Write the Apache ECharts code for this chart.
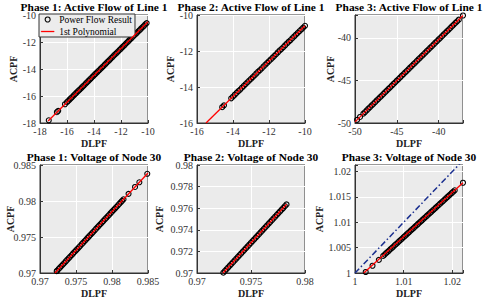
<!DOCTYPE html>
<html>
<head>
<meta charset="utf-8">
<script src="https://cdn.jsdelivr.net/npm/echarts@6/dist/echarts.min.js"></script>
<style>
html,body{margin:0;padding:0;background:#fff;}
#chart{width:485px;height:301px;}
</style>
</head>
<body>
<div id="chart"></div>
<script>
// ---------- DATA ----------
const titles = ['Phase 1: Active Flow of Line 1','Phase 2: Active Flow of Line 1','Phase 3: Active Flow of Line 1',
                'Phase 1: Voltage of Node 30','Phase 2: Voltage of Node 30','Phase 3: Voltage of Node 30'];
const xName = 'DLPF';
const yName = 'ACPF';
const legendNames = ['Power Flow Result','1st Polynomial'];

// Panel 1
const p1X = [-17.35,-16.75,-16.65,-16.15,
  -16.0,-15.9,-15.8,-15.7,-15.6,-15.5,-15.4,-15.3,-15.2,-15.1,-15.0,-14.9,-14.8,-14.7,-14.6,-14.5,-14.4,-14.3,-14.2,-14.1,
  -14.0,-13.9,-13.8,-13.7,-13.6,-13.5,-13.4,-13.3,-13.2,-13.1,-13.0,-12.9,-12.8,-12.7,-12.6,-12.5,-12.4,-12.3,-12.2,-12.1,
  -12.0,-11.9,-11.8,-11.7,-11.6,-11.5,-11.4,-11.3,-11.2,-11.1,-11.0,-10.9,-10.8,-10.7,-10.6,-10.5,-10.4,-10.3,-10.2,-10.1];
const p1Y = [-17.80,-17.20,-17.10,-16.61,
  -16.46,-16.36,-16.26,-16.16,-16.06,-15.96,-15.86,-15.76,-15.66,-15.57,-15.47,-15.37,-15.27,-15.17,-15.07,-14.97,-14.87,-14.77,-14.67,-14.57,
  -14.47,-14.37,-14.27,-14.17,-14.08,-13.98,-13.88,-13.78,-13.68,-13.58,-13.48,-13.38,-13.28,-13.18,-13.08,-12.98,-12.88,-12.78,-12.69,-12.59,
  -12.49,-12.39,-12.29,-12.19,-12.09,-11.99,-11.89,-11.79,-11.69,-11.59,-11.49,-11.39,-11.30,-11.20,-11.10,-11.00,-10.90,-10.80,-10.70,-10.60];
const p1FitX = [-17.4,-10.0];
const p1FitY = [-17.85,-10.5];
const p1XTicks = [-18,-16,-14,-12,-10];
const p1XLabels = ['-18','-16','-14','-12','-10'];
const p1YTicks = [-18,-16,-14,-12,-10];
const p1YLabels = ['-18','-16','-14','-12','-10'];

// Panel 2
const p2X = [-14.6,-14.5,
  -14.1,-14.0,-13.9,-13.8,-13.7,-13.6,-13.5,-13.4,-13.3,-13.2,-13.1,-13.0,-12.9,-12.8,-12.7,-12.6,-12.5,-12.4,-12.3,-12.2,-12.1,
  -12.0,-11.9,-11.8,-11.7,-11.6,-11.5,-11.4,-11.3,-11.2,-11.1,-11.0,-10.9,-10.8,-10.7,-10.6,-10.5,-10.4,-10.3,-10.2,-10.1,-10.0];
const p2Y = [-15.12,-15.02,
  -14.63,-14.53,-14.43,-14.33,-14.23,-14.14,-14.04,-13.94,-13.84,-13.74,-13.64,-13.55,-13.45,-13.35,-13.25,-13.15,-13.06,-12.96,-12.86,-12.76,-12.66,
  -12.56,-12.47,-12.37,-12.27,-12.17,-12.07,-11.97,-11.88,-11.78,-11.68,-11.58,-11.48,-11.39,-11.29,-11.19,-11.09,-10.99,-10.89,-10.80,-10.70,-10.60];
const p2FitX = [-15.5,-10.0];
const p2FitY = [-16.0,-10.6];
const p2XTicks = [-16,-14,-12,-10];
const p2XLabels = ['-16','-14','-12','-10'];
const p2YTicks = [-16,-14,-12,-10];
const p2YLabels = ['-16','-14','-12','-10'];

// Panel 3
const p3X = [-49.75,-49.4,
  -49.0,-48.8,-48.6,-48.4,-48.2,-48.0,-47.8,-47.6,-47.4,-47.2,-47.0,-46.8,-46.6,-46.4,-46.2,-46.0,-45.8,-45.6,-45.4,-45.2,
  -45.0,-44.8,-44.6,-44.4,-44.2,-44.0,-43.8,-43.6,-43.4,-43.2,-43.0,-42.8,-42.6,-42.4,-42.2,-42.0,-41.8,-41.6,-41.4,-41.2,
  -41.0,-40.8,-40.6,-40.4,-40.2,-40.0,-39.8,-39.6,-39.4,-39.2,-39.0,-38.8,-38.6,-38.4,-38.2,-38.0,-37.8,-37.6,-37.1];
const p3Y = [-49.63,-49.29,
  -48.90,-48.71,-48.52,-48.32,-48.13,-47.93,-47.74,-47.55,-47.35,-47.16,-46.96,-46.77,-46.58,-46.38,-46.19,-45.99,-45.80,-45.61,-45.41,-45.22,
  -45.02,-44.83,-44.64,-44.44,-44.25,-44.05,-43.86,-43.67,-43.47,-43.28,-43.08,-42.89,-42.70,-42.50,-42.31,-42.11,-41.92,-41.73,-41.53,-41.34,
  -41.14,-40.95,-40.76,-40.56,-40.37,-40.17,-39.98,-39.79,-39.59,-39.40,-39.20,-39.01,-38.82,-38.62,-38.43,-38.23,-38.04,-37.85,-37.36];
const p3FitX = [-50.0,-37.1];
const p3FitY = [-49.87,-37.36];
const p3XTicks = [-50,-45,-40];
const p3XLabels = ['-50','-45','-40'];
const p3YTicks = [-50,-45,-40];
const p3YLabels = ['-50','-45','-40'];

// Panel 4
const p4X = [0.97232,
  0.9724,0.9726,0.9728,0.9730,0.9732,0.9734,0.9736,0.9738,0.9740,0.9742,0.9744,0.9746,0.9748,0.9750,0.9752,0.9754,
  0.9756,0.9758,0.9760,0.9762,0.9764,0.9766,0.9768,0.9770,0.9772,0.9774,0.9776,0.9778,0.9780,0.9782,0.9784,0.9786,
  0.9788,0.9790,0.9792,0.9794,0.9796,0.9798,0.9800,0.9802,0.9804,0.9806,0.9808,0.9810,0.9812,0.9814,0.9816,
  0.9823,0.9832,0.9838,0.9849];
const p4Y = [0.97026,
  0.97034,0.97056,0.97077,0.97099,0.97120,0.97142,0.97163,0.97185,0.97206,0.97228,0.97249,0.97271,0.97292,0.97314,0.97335,0.97357,
  0.97378,0.97400,0.97421,0.97443,0.97464,0.97486,0.97507,0.97529,0.97550,0.97572,0.97593,0.97615,0.97636,0.97658,0.97679,0.97701,
  0.97722,0.97744,0.97765,0.97787,0.97808,0.97830,0.97851,0.97873,0.97894,0.97916,0.97937,0.97959,0.97980,0.98002,0.98023,
  0.98099,0.98195,0.98260,0.98378];
const p4FitX = [0.97208,0.985];
const p4FitY = [0.97,0.98389];
const p4XTicks = [0.97,0.975,0.98,0.985];
const p4XLabels = ['0.97','0.975','0.98','0.985'];
const p4YTicks = [0.97,0.975,0.98,0.985];
const p4YLabels = ['0.97','0.975','0.98','0.985'];

// Panel 5
const p5X = [0.97244,0.97259,0.97274,0.97289,0.97304,0.97319,0.97334,0.97349,0.97364,0.97379,0.97394,0.97409,0.97424,0.97439,
  0.97454,0.97469,0.97484,0.97499,0.97514,0.97529,0.97544,0.97559,0.97574,0.97589,0.97604,0.97619,0.97634,0.97649,
  0.97664,0.97679,0.97694,0.97709,0.97724,0.97739,0.97754,0.97769,0.97784,0.97799,0.97814,0.97829];
const p5Y = [0.97003,0.97019,0.97035,0.97052,0.97068,0.97084,0.97100,0.97116,0.97133,0.97149,0.97165,0.97181,0.97197,0.97214,
  0.97230,0.97246,0.97262,0.97278,0.97295,0.97311,0.97327,0.97343,0.97359,0.97376,0.97392,0.97408,0.97424,0.97440,
  0.97457,0.97473,0.97489,0.97505,0.97521,0.97538,0.97554,0.97570,0.97586,0.97602,0.97619,0.97635];
const p5FitX = [0.97241,0.9783];
const p5FitY = [0.97,0.97636];
const p5XTicks = [0.97,0.975,0.98];
const p5XLabels = ['0.97','0.975','0.98'];
const p5YTicks = [0.97,0.972,0.974,0.976,0.978,0.98];
const p5YLabels = ['0.97','0.972','0.974','0.976','0.978','0.98'];

// Panel 6
const p6X = [1.0022,1.0036,1.0049,
  1.0058,1.0061,1.0064,1.0067,1.0070,1.0073,1.0076,1.0079,1.0082,1.0085,1.0088,1.0091,1.0094,1.0097,1.0100,1.0103,1.0106,
  1.0109,1.0112,1.0115,1.0118,1.0121,1.0124,1.0127,1.0130,1.0133,1.0136,1.0139,1.0142,1.0145,1.0148,1.0151,1.0154,1.0157,
  1.0160,1.0163,1.0166,1.0169,1.0172,1.0175,1.0178,1.0181,1.0184,1.0187,1.0190,1.0193,1.0196,1.0199,1.0202,1.0205,1.0222];
const p6Y = [1.00020,1.00143,1.00258,
  1.00337,1.00363,1.00390,1.00416,1.00443,1.00469,1.00495,1.00522,1.00548,1.00575,1.00601,1.00627,1.00654,1.00680,1.00707,1.00733,1.00759,
  1.00786,1.00812,1.00839,1.00865,1.00891,1.00918,1.00944,1.00971,1.00997,1.01023,1.01050,1.01076,1.01103,1.01129,1.01155,1.01182,1.01208,
  1.01235,1.01261,1.01287,1.01314,1.01340,1.01367,1.01393,1.01419,1.01446,1.01472,1.01499,1.01525,1.01551,1.01578,1.01604,1.01631,1.01780];
const p6FitX = [1.0018,1.0222];
const p6FitY = [1.0,1.0178];
const p6RefX = [1.0,1.0222];
const p6RefY = [1.0,1.0222];
const p6XTicks = [1,1.01,1.02];
const p6XLabels = ['1','1.01','1.02'];
const p6YTicks = [1,1.005,1.01,1.015,1.02];
const p6YLabels = ['1','1.005','1.01','1.015','1.02'];

// ---------- CHART ----------
const FONT = "'Liberation Serif','Times New Roman',serif";
const zip = (a,b) => a.map((v,i)=>[v,b[i]]);

const panels = [
  {x:p1X,y:p1Y,fx:p1FitX,fy:p1FitY,xt:p1XTicks,xl:p1XLabels,yt:p1YTicks,yl:p1YLabels,xr:[-18,-10],yr:[-18,-10],xi:2,yi:2},
  {x:p2X,y:p2Y,fx:p2FitX,fy:p2FitY,xt:p2XTicks,xl:p2XLabels,yt:p2YTicks,yl:p2YLabels,xr:[-16,-10],yr:[-16,-10],xi:2,yi:2},
  {x:p3X,y:p3Y,fx:p3FitX,fy:p3FitY,xt:p3XTicks,xl:p3XLabels,yt:p3YTicks,yl:p3YLabels,xr:[-50,-37.1],yr:[-50,-37.3],xi:5,yi:5},
  {x:p4X,y:p4Y,fx:p4FitX,fy:p4FitY,xt:p4XTicks,xl:p4XLabels,yt:p4YTicks,yl:p4YLabels,xr:[0.97,0.985],yr:[0.97,0.985],xi:0.005,yi:0.005},
  {x:p5X,y:p5Y,fx:p5FitX,fy:p5FitY,xt:p5XTicks,xl:p5XLabels,yt:p5YTicks,yl:p5YLabels,xr:[0.97,0.98],yr:[0.97,0.98],xi:0.005,yi:0.002},
  {x:p6X,y:p6Y,fx:p6FitX,fy:p6FitY,xt:p6XTicks,xl:p6XLabels,yt:p6YTicks,yl:p6YLabels,xr:[1,1.0222],yr:[1,1.0213],xi:0.01,yi:0.005,
   rx:p6RefX,ry:p6RefY}
];

const gridLefts = [40,197,355];
const gridTops = [15,165];
const W = 108, H = 108;

const grids = [], xAxes = [], yAxes = [], series = [], graphics = [];
const labelFmt = (ticks, labels) => (v) => {
  for (let i=0;i<ticks.length;i++) if (Math.abs(ticks[i]-v) < 1e-9) return labels[i];
  return '';
};
const axisCommon = {
  axisLine:{show:true,onZero:false,lineStyle:{color:'#333',width:1}},
  axisTick:{show:true,inside:true,length:3,lineStyle:{color:'#333'}},
  splitLine:{show:true,lineStyle:{color:'#ffffff',width:1}},
};

const yNameX = [13,170,330.5,10.5,159.5,319];

panels.forEach((p,i)=>{
  const col = i%3, row = Math.floor(i/3);
  const left = gridLefts[col], top = gridTops[row];
  grids.push({left:left,top:top,width:W,height:H,show:true,backgroundColor:'#ebebeb',borderColor:'#333',borderWidth:1,containLabel:false});
  xAxes.push(Object.assign({}, axisCommon, {
    type:'value',gridIndex:i,min:p.xr[0],max:p.xr[1],interval:p.xi,
    axisLabel:{show:true,formatter:labelFmt(p.xt,p.xl),fontFamily:FONT,fontSize:10,color:'#333',margin:3,showMaxLabel:true,showMinLabel:true}
  }));
  yAxes.push(Object.assign({}, axisCommon, {
    type:'value',gridIndex:i,min:p.yr[0],max:p.yr[1],interval:p.yi,
    axisLabel:{show:true,formatter:labelFmt(p.yt,p.yl),fontFamily:FONT,fontSize:10,color:'#333',margin:4,showMaxLabel:true,showMinLabel:true}
  }));
  series.push({
    type:'scatter',name:legendNames[0],xAxisIndex:i,yAxisIndex:i,
    data:zip(p.x,p.y),symbol:'circle',symbolSize:5,
    itemStyle:{color:'rgba(0,0,0,0)',borderColor:'#000',borderWidth:1.1,opacity:1},
    z:1,silent:true
  });
  series.push({
    type:'line',name:legendNames[1],xAxisIndex:i,yAxisIndex:i,
    data:zip(p.fx,p.fy),symbol:'none',showSymbol:false,clip:true,
    lineStyle:{color:'#ff0000',width:1.3},itemStyle:{color:'#ff0000'},z:10,silent:true
  });
  if (p.rx) {
    series.push({
      type:'line',name:'y=x',xAxisIndex:i,yAxisIndex:i,
      data:zip(p.rx,p.ry),symbol:'none',showSymbol:false,clip:true,
      lineStyle:{color:'#1a2f8f',width:1.5,type:[6,2.5,1.5,2.5]},z:10,silent:true
    });
  }
  const cx = left + W/2, cy = top + H/2;
  graphics.push({type:'text',x:cx,y:top-8.5,style:{text:titles[i],font:'bold 11.4px '+FONT,fill:'#000',textAlign:'center',textVerticalAlign:'middle'}});
  graphics.push({type:'text',x:cx,y:top+H+20.5,style:{text:xName,font:'bold 10px '+FONT,fill:'#222',textAlign:'center',textVerticalAlign:'middle'}});
  graphics.push({type:'text',x:yNameX[i],y:cy,rotation:Math.PI/2,style:{text:yName,font:'bold 10px '+FONT,fill:'#222',textAlign:'center',textVerticalAlign:'middle'}});
});

const chart = echarts.init(document.getElementById('chart'), null, {renderer:'svg'});
chart.setOption({
  animation:false,
  backgroundColor:'#ffffff',
  grid:grids,
  xAxis:xAxes,
  yAxis:yAxes,
  series:series,
  legend:{
    data:[
      {name:legendNames[0],icon:'circle',itemStyle:{color:'rgba(0,0,0,0)',borderColor:'#000',borderWidth:1.1}},
      {name:legendNames[1],icon:'path://M0,0 L20,0 L20,1.6 L0,1.6 Z',itemStyle:{color:'#ff0000',borderColor:'#ff0000',borderWidth:0.3}}
    ],
    orient:'vertical',left:39,top:14,
    backgroundColor:'#ececec',borderColor:'#333',borderWidth:1,borderRadius:0,
    padding:[0,3,0,2],itemGap:1,itemWidth:13,itemHeight:5,symbolKeepAspect:true,
    textStyle:{fontFamily:FONT,fontSize:9.5,color:'#000',lineHeight:11},
    selectedMode:false
  },
  graphic:graphics
});
</script>
</body>
</html>
